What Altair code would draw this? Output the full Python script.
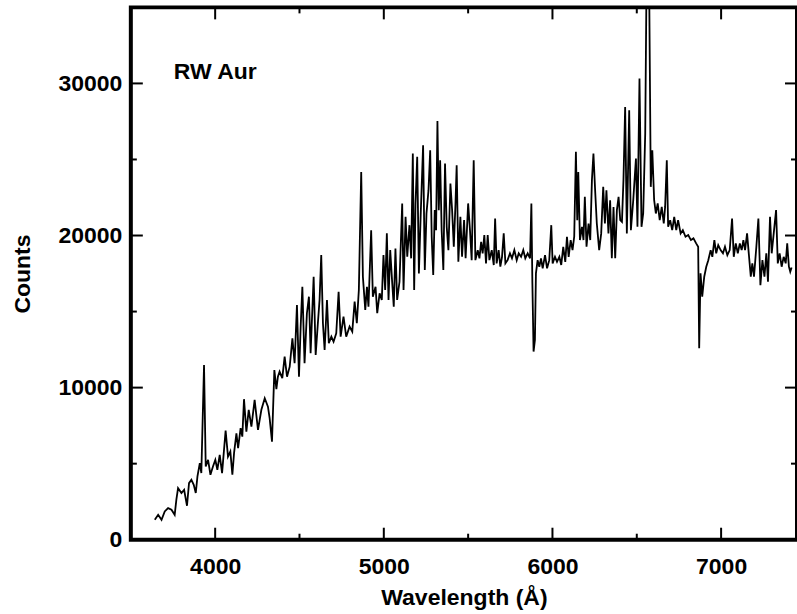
import altair as alt
import pandas as pd

wavelength = [
    3642, 3662, 3682, 3701, 3721, 3741, 3760, 3770, 3780, 3800, 3816, 3833, 3845, 3859, 3873, 3885,
    3895, 3909, 3918, 3934, 3944, 3958, 3972, 3987, 4001, 4013, 4027, 4041, 4062, 4076, 4090, 4102,
    4112, 4126, 4136, 4151, 4161, 4171, 4185, 4199, 4215, 4234, 4254, 4274, 4294, 4313, 4323, 4337,
    4351, 4363, 4372, 4382, 4398, 4412, 4426, 4442, 4458, 4471, 4485, 4497, 4507, 4517, 4530, 4544,
    4556, 4566, 4584, 4596, 4609, 4619, 4629, 4639, 4649, 4663, 4674, 4689, 4702, 4718, 4732, 4744,
    4761, 4777, 4797, 4813, 4827, 4840, 4852, 4866, 4876, 4890, 4900, 4909, 4925, 4935, 4951, 4961,
    4975, 4988, 4998, 5008, 5018, 5028, 5038, 5050, 5059, 5069, 5079, 5093, 5109, 5117, 5129, 5139,
    5152, 5162, 5172, 5180, 5188, 5198, 5208, 5219, 5233, 5243, 5253, 5265, 5275, 5284, 5293, 5302,
    5310, 5318, 5326, 5334, 5343, 5353, 5363, 5373, 5383, 5395, 5405, 5415, 5425, 5432, 5442, 5454,
    5464, 5476, 5485, 5500, 5511, 5521, 5533, 5543, 5557, 5567, 5577, 5586, 5596, 5606, 5616, 5626,
    5640, 5652, 5660, 5669, 5681, 5691, 5701, 5711, 5721, 5734, 5748, 5760, 5774, 5788, 5800, 5814,
    5827, 5839, 5853, 5867, 5875, 5881, 5888, 5896, 5902, 5912, 5922, 5932, 5942, 5956, 5968, 5981,
    5993, 6001, 6015, 6027, 6041, 6052, 6064, 6076, 6086, 6096, 6108, 6119, 6129, 6139, 6147, 6153,
    6163, 6175, 6184, 6192, 6202, 6214, 6224, 6234, 6243, 6253, 6263, 6277, 6289, 6301, 6311, 6320,
    6332, 6342, 6352, 6362, 6372, 6382, 6392, 6402, 6412, 6421, 6431, 6441, 6455, 6465, 6479, 6495,
    6504, 6516, 6528, 6538, 6550, 6558, 6573, 6583, 6592, 6603, 6613, 6624, 6636, 6648, 6660, 6668,
    6678, 6686, 6698, 6710, 6722, 6734, 6745, 6760, 6773, 6789, 6805, 6821, 6836, 6852, 6864, 6870,
    6878, 6888, 6900, 6912, 6924, 6938, 6948, 6960, 6971, 6983, 6997, 7011, 7023, 7037, 7051, 7065,
    7075, 7087, 7099, 7111, 7122, 7132, 7142, 7154, 7164, 7176, 7185, 7195, 7209, 7221, 7233, 7245,
    7257, 7268, 7278, 7290, 7300, 7312, 7326, 7336, 7347, 7359, 7371, 7383, 7392, 7402, 7410, 7418,
]

counts = [
    1310, 1640, 1310, 1860, 2080, 1970, 1640, 2630, 3390, 3070, 3280, 2230, 3720, 3940, 3610, 3070,
    4160, 5040, 4380, 11490, 4810, 5250, 4270, 4810, 5250, 4600, 5580, 4380, 7180, 5470, 5800, 4270,
    5690, 7000, 6020, 7330, 6780, 9240, 7110, 8540, 7440, 9190, 7220, 8540, 9300, 8750, 7990, 6450,
    11160, 9900, 10720, 11050, 10620, 12040, 10720, 11380, 13240, 11600, 15430, 10720, 14010, 16630, 11600, 14890,
    15980, 12260, 17290, 12150, 14230, 15760, 18710, 14230, 12480, 15760, 12920, 13350, 13020, 13570, 16300, 13350,
    14660, 13350, 14010, 13680, 15650, 14230, 16420, 24180, 17290, 15100, 16630, 15320, 20350, 15980, 16630, 14890,
    16200, 15760, 18710, 16420, 20140, 15760, 19040, 16850, 15320, 19150, 15760, 16960, 22110, 16420, 21230, 18600,
    20680, 18500, 25390, 16420, 22110, 25170, 17510, 21450, 25940, 17730, 21450, 22980, 25610, 19920, 17400, 21670,
    20350, 27530, 21670, 24950, 20350, 17730, 24730, 20570, 19040, 23420, 21670, 19260, 22110, 24620, 18270, 21230,
    18600, 21010, 18500, 22110, 20350, 18380, 24950, 18380, 19040, 18500, 19590, 18830, 20030, 18170, 20030, 18380,
    19040, 18060, 21120, 18170, 19040, 17950, 18600, 20140, 18170, 18380, 18830, 18500, 19040, 18380, 18830, 18600,
    19040, 18500, 18830, 18500, 22110, 16850, 12370, 13130, 17510, 18380, 17950, 18500, 17840, 18710, 17840, 18380,
    20680, 18170, 18600, 18270, 18600, 18060, 19260, 18270, 19920, 18600, 19700, 19040, 19920, 25500, 21010, 24180,
    19700, 20570, 19700, 22540, 19260, 20790, 19700, 23640, 25390, 22980, 20790, 19040, 20140, 23200, 20790, 22980,
    20140, 22320, 18500, 21880, 18500, 21670, 22540, 21010, 20900, 23640, 28450, 20140, 28230, 20350, 22320, 25060,
    20570, 30320, 20570, 21450, 26700, 37000, 37000, 23200, 25610, 22320, 21450, 22110, 21010, 21880, 20790, 21880,
    24950, 20570, 21010, 20350, 21230, 20350, 21010, 20140, 20350, 19920, 20030, 19700, 19810, 19480, 19260, 12590,
    17510, 15980, 17290, 17950, 18380, 19040, 18600, 19700, 18830, 19370, 19040, 18830, 19260, 18710, 19040, 21120,
    18600, 19480, 18830, 19480, 19040, 19700, 19040, 20140, 18830, 17290, 18170, 17290, 19260, 21120, 16740, 18380,
    17290, 18830, 16960, 21230, 18830, 20140, 21670, 18170, 18830, 17950, 18600, 18170, 19480, 17950, 17620, 17900,
]

x_major = [4000, 5000, 6000, 7000]
x_minor = [4500, 5500, 6500]
y_major = [0, 10000, 20000, 30000]
y_minor = [5000, 15000, 25000]
label_text = ["RW Aur"]

W, H = 667, 533
FONT = "Liberation Sans"

xscale = alt.Scale(domain=[3500, 7450], nice=False, zero=False)
yscale = alt.Scale(domain=[0, 35000], nice=False)

xaxis = alt.Axis(values=x_major, title="Wavelength (Å)", format="d",
                 domain=False, ticks=False, grid=False,
                 labelPadding=16, titlePadding=8)
yaxis = alt.Axis(values=y_major, title="Counts", format="d",
                 domain=False, ticks=False, grid=False,
                 labelPadding=9, titlePadding=24)

spec = pd.DataFrame({"wavelength": wavelength, "counts": counts})

line = alt.Chart(spec).mark_line(color="black", strokeWidth=1.8, clip=True).encode(
    x=alt.X("wavelength:Q", scale=xscale, axis=xaxis),
    y=alt.Y("counts:Q", scale=yscale, axis=yaxis),
)

def xticks(vals, length):
    df = pd.DataFrame({"wavelength": vals})
    bottom = alt.Chart(df).mark_rule(color="black", strokeWidth=2).encode(
        x=alt.X("wavelength:Q", scale=xscale, axis=xaxis),
        y=alt.value(H), y2=alt.value(H - length))
    top = alt.Chart(df).mark_rule(color="black", strokeWidth=2).encode(
        x=alt.X("wavelength:Q", scale=xscale, axis=xaxis),
        y=alt.value(0), y2=alt.value(length))
    return [bottom, top]

def yticks(vals, length):
    df = pd.DataFrame({"counts": vals})
    left = alt.Chart(df).mark_rule(color="black", strokeWidth=2).encode(
        y=alt.Y("counts:Q", scale=yscale, axis=yaxis),
        x=alt.value(0), x2=alt.value(length))
    right = alt.Chart(df).mark_rule(color="black", strokeWidth=2).encode(
        y=alt.Y("counts:Q", scale=yscale, axis=yaxis),
        x=alt.value(W), x2=alt.value(W - length))
    return [left, right]

label = alt.Chart(pd.DataFrame({"t": label_text})).mark_text(
    font=FONT, fontWeight="bold", fontSize=23, align="left", baseline="alphabetic", color="black"
).encode(x=alt.value(43), y=alt.value(72), text="t:N")

layers = [line] + xticks(x_major, 12) + xticks(x_minor, 6) + yticks(y_major[1:], 12) + yticks(y_minor, 6) + [label]

chart = alt.layer(*layers).properties(
    width=W, height=H,
    background="white",
    padding={"left": 131, "top": 7, "right": 0, "bottom": 74},
    autosize=alt.AutoSizeParams(type="none"),
).configure_view(
    stroke="black", strokeWidth=4
).configure_axis(
    labelFont=FONT, labelFontWeight="bold", labelFontSize=23, labelColor="black",
    titleFont=FONT, titleFontWeight="bold", titleFontSize=23, titleColor="black",
)

chart.save("out.html", embed_options={"renderer": "svg", "actions": False})
